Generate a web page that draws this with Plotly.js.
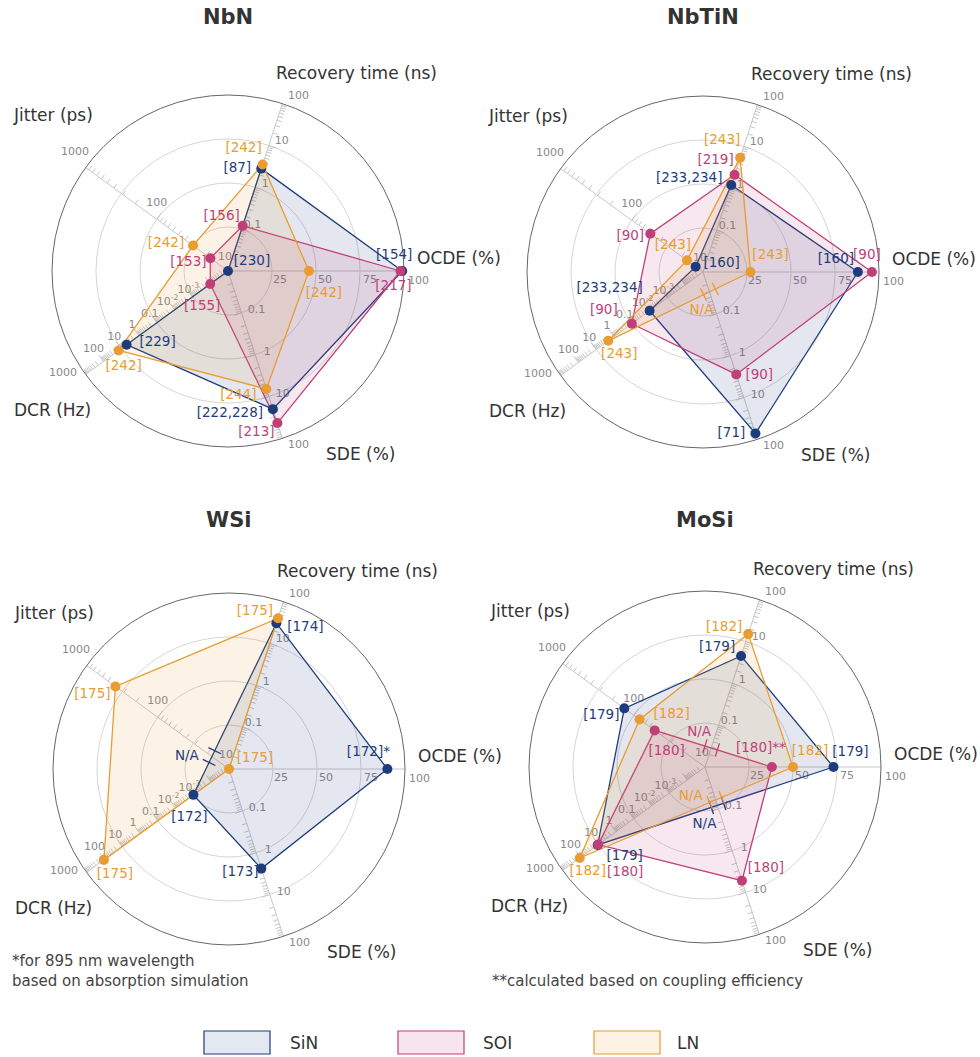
<!DOCTYPE html>
<html>
<head>
<meta charset="utf-8">
<script src="https://cdn.plot.ly/plotly-3.0.1.min.js"></script>
<style>
  html, body { margin: 0; padding: 0; background: #ffffff; }
  #chart { width: 980px; height: 1057px; }
</style>
</head>
<body>
<div id="chart"></div>
<script>
// ---- axes (counter-clockwise from the right-hand spoke) ----
const axisNames = ['OCDE (%)', 'Recovery time (ns)', 'Jitter (ps)', 'DCR (Hz)', 'SDE (%)'];
const axisAngles = [0, 72, 144, 216, 288];

const materials = ['NbN', 'NbTiN', 'WSi', 'MoSi'];
const platforms = ['SiN', 'SOI', 'LN'];

// ---- values: [OCDE %, recovery ns, jitter ps, DCR Hz, SDE %]; null = not reported ----
const nbnSiN = [99, 2.8, 10, 5, 20];
const nbnSOI = [98, 0.12, 17.7, 1e-4, 43];
const nbnLN  = [46, 3.5, 31, 14, 6.6];

const nbtinSiN = [88, 1.2, 12.7, 0.01, 72];
const nbtinSOI = [96, 2.1, 55, 0.1, 2.8];
const nbtinLN  = [27, 5.4, 16.8, 2.1, null];

const wsiSiN = [90, 30.6, null, 1e-3, 2.4];
const wsiSOI = [null, null, null, null, null];
const wsiLN  = [0, 40, 394, 107, null];

const mosiSiN = [73, 4.5, 136, 10.7, null];
const mosiSOI = [38, null, 51, 10, 5.2];
const mosiLN  = [50, 15, 83, 109, null];

// ---- reference tags drawn beside each point ----
const nbnSiNRefs = ['[154]', '[87]', '[230]', '[229]', '[222,228]'];
const nbnSOIRefs = ['[217]', '[156]', '[153]', '[155]', '[213]'];
const nbnLNRefs  = ['[242]', '[242]', '[242]', '[242]', '[244]'];

const nbtinSiNRefs = ['[160]', '[233,234]', '[160]', '[233,234]', '[71]'];
const nbtinSOIRefs = ['[90]', '[219]', '[90]', '[90]', '[90]'];
const nbtinLNRefs  = ['[243]', '[243]', '[243]', '[243]', 'N/A'];

const wsiSiNRefs = ['[172]*', '[174]', 'N/A', '[172]', '[173]'];
const wsiSOIRefs = ['', '', '', '', ''];
const wsiLNRefs  = ['[175]', '[175]', '[175]', '[175]', ''];

const mosiSiNRefs = ['[179]', '[179]', '[179]', '[179]', 'N/A'];
const mosiSOIRefs = ['[180]**', 'N/A', '[180]', '[180]', '[180]'];
const mosiLNRefs  = ['[182]', '[182]', '[182]', '[182]', 'N/A'];

// ---- spoke tick labels ----
const ocdeTicks = [25, 50, 75, 100];
const recoveryTicks = [0.1, 1, 10, 100];
const jitterTicks = [10, 100, 1000];
const dcrTicks = [1e-3, 1e-2, 0.1, 1, 10, 100, 1000];
const sdeTicks = [0.1, 1, 10, 100];
const recoveryTickText = ['0.1', '1', '10', '100'];
const jitterTickText = ['10', '100', '1000'];
const dcrTickText = ['10<sup>-3</sup>', '10<sup>-2</sup>', '0.1', '1', '10', '100', '1000'];
const sdeTickText = ['0.1', '1', '10', '100'];

// ---- per-axis scales onto the unit radius ----
const scales = [
  v => v / 100,                      // OCDE: linear 0–100 %
  v => (Math.log10(v) + 2) / 4,      // recovery: log 0.01–100 ns
  v => (Math.log10(v) - 1) / 2,      // jitter: log 10–1000 ps
  v => (Math.log10(v) + 5) / 8,      // DCR: log 1e-5–1e3 Hz
  v => (Math.log10(v) + 2) / 4       // SDE: log 0.01–100 %
];
// decade ranges used for the minor tick ladders on the log spokes
const logDecades = [null, [-2, 1], [1, 2], [-5, 2], [-2, 1]];

// ---- styling ----
const colors = { SiN: '#1e3c7d', SOI: '#c13f79', LN: '#e89c31' };
const fills  = { SiN: 'rgba(30,60,125,0.12)', SOI: 'rgba(193,63,121,0.12)', LN: 'rgba(232,156,49,0.12)' };
const legendFills = { SiN: '#e4e8f1', SOI: '#f7e5ee', LN: '#fdf3e5' };
const FONT = 'DejaVu Sans, Verdana, sans-serif';
const R_PX = 176;                                   // polar radius in px
const centers = [[228, 271], [703, 272], [229, 769], [705, 767]];
const W = 980, H = 1057;

// text placement (px, screen coords) of the reference tags relative to their point
const tagOffsets = {
  NbN: {
    SiN: [[-8, -15], [-24, 0], [24, -9], [31, -2], [-43, 4]],
    SOI: [[-7, 16], [-21, -9], [-22, 4], [-8, 23], [-21, 10]],
    LN:  [[15, 23], [-19, -16], [-27, -2], [5, 16], [-28, 7]]
  },
  NbTiN: {
    SiN: [[-22, -12], [-42, -6], [26, -3], [-40, -22], [-24, 0]],
    SOI: [[-5, -16], [-19, -14], [-20, 3], [-28, -13], [23, 1]],
    LN:  [[20, -16], [-18, -17], [-14, -15], [11, 14], [-8, 19]]
  },
  WSi: {
    SiN: [[-19, -16], [29, 4], [-25, 0], [-4, 23], [-21, 4]],
    SOI: [[0, 0], [0, 0], [0, 0], [0, 0], [0, 0]],
    LN:  [[26, -10], [-23, -7], [-23, 8], [11, 15], [0, 0]]
  },
  MoSi: {
    SiN: [[17, -14], [-24, -8], [-23, 7], [27, 12], [-13, 19]],
    SOI: [[-11, -18], [-12, -15], [12, 21], [27, 28], [24, -12]],
    LN:  [[17, -15], [-24, -6], [32, -5], [8, 14], [-25, -3]]
  }
};
// tick label placement per spoke (px offsets from the tick position)
const tickLabelOffsets = [
  [[8, 9], [9, 9], [10, 9], [14, 9]],
  [[11, -4], [10, -3], [13, -4], [16, -8]],
  [[-3, -14], [0, -16], [-11, -16]],
  [[-4, -7], [-7, -8], [-7, -8], [-7, -10], [-7, -11], [-10, -12], [-23, -2]],
  [[15, -3], [12, -2], [14, -2], [16, 6]]
];
// axis title placement relative to the panel centre (px)
const axisTitleOffsets = [[231, -13], [128, -198], [-175, -156], [-176, 139], [132, 183]];

const dataSets = {
  NbN:   { SiN: [nbnSiN, nbnSiNRefs], SOI: [nbnSOI, nbnSOIRefs], LN: [nbnLN, nbnLNRefs] },
  NbTiN: { SiN: [nbtinSiN, nbtinSiNRefs], SOI: [nbtinSOI, nbtinSOIRefs], LN: [nbtinLN, nbtinLNRefs] },
  WSi:   { SiN: [wsiSiN, wsiSiNRefs], SOI: [wsiSOI, wsiSOIRefs], LN: [wsiLN, wsiLNRefs] },
  MoSi:  { SiN: [mosiSiN, mosiSiNRefs], SOI: [mosiSOI, mosiSOIRefs], LN: [mosiLN, mosiLNRefs] }
};

// ---- geometry helpers (unit-radius polar <-> cartesian) ----
const rad = d => d * Math.PI / 180;
const cart = (r, deg) => [r * Math.cos(rad(deg)), r * Math.sin(rad(deg))];
const toPolar = (x, y) => [Math.hypot(x, y), Math.atan2(y, x) * 180 / Math.PI];

const traces = [];
const annotations = [];

// text that falls outside a radar's unit circle goes to paper-anchored annotations
function placeText(pi, X, Y, text, font, bucket) {
  if (Math.hypot(X, Y) < 0.985) {
    const p = toPolar(X, Y);
    bucket.r.push(p[0]); bucket.t.push(p[1]); bucket.s.push(text);
  } else {
    const [cx, cy] = centers[pi];
    annotations.push({ xref: 'paper', yref: 'paper', x: (cx + X * R_PX) / W, y: 1 - (cy - Y * R_PX) / H,
      text: text, showarrow: false, xanchor: 'center', yanchor: 'middle', font: font });
  }
}

materials.forEach((mat, pi) => {
  const sub = pi === 0 ? 'polar' : 'polar' + (pi + 1);

  // tick ladders on the log spokes (drawn on the clockwise side)
  const tr = [], tt = [];
  logDecades.forEach((dec, ai) => {
    if (!dec) return;
    const a = axisAngles[ai];
    for (let d = dec[0]; d <= dec[1]; d++) {
      for (let k = 1; k <= 9; k++) {
        const r = scales[ai](k * Math.pow(10, d));
        if (r <= 0.001 || r >= 0.999) continue;
        const len = (k === 1 ? 8 : 5) / R_PX;
        const [x, y] = cart(r, a);
        const [px, py] = cart(len, a - 90);
        const p1 = toPolar(x, y), p2 = toPolar(x + px, y + py);
        tr.push(p1[0], p2[0], null);
        tt.push(p1[1], p2[1], null);
      }
    }
  });
  traces.push({ type: 'scatterpolar', subplot: sub, mode: 'lines', r: tr, theta: tt,
    line: { color: '#c4c4c4', width: 1 }, hoverinfo: 'skip', showlegend: false, cliponaxis: false });

  // tick labels
  const tickFont = { family: FONT, size: 11, color: '#888888' };
  const tickSets = [
    [ocdeTicks, ocdeTicks.map(String)],
    [recoveryTicks, recoveryTickText],
    [jitterTicks, jitterTickText],
    [dcrTicks, dcrTickText],
    [sdeTicks, sdeTickText]
  ];
  const tb = { r: [], t: [], s: [] };
  tickSets.forEach(([vals, txt], ai) => {
    vals.forEach((v, i) => {
      const [dx, dy] = tickLabelOffsets[ai][i];
      const [x, y] = cart(scales[ai](v), axisAngles[ai]);
      placeText(pi, x + dx / R_PX, y - dy / R_PX, txt[i], tickFont, tb);
    });
  });
  traces.push({ type: 'scatterpolar', subplot: sub, mode: 'text', r: tb.r, theta: tb.t, text: tb.s,
    textposition: 'middle center', textfont: tickFont, hoverinfo: 'skip', showlegend: false, cliponaxis: false });

  // axis titles
  const titleFont = { family: FONT, size: 17, color: '#333333' };
  axisTitleOffsets.forEach(([dx, dy], ai) => {
    placeText(pi, dx / R_PX, -dy / R_PX, axisNames[ai], titleFont, null);
  });

  // filled outlines
  const markerTraces = [], tagTraces = [], naTraces = [];
  platforms.forEach(pf => {
    const [vals, refs] = dataSets[mat][pf];
    const idx = vals.map((v, i) => v === null ? -1 : i).filter(i => i >= 0);
    if (!idx.length) return;
    const rr = idx.map(i => scales[i](vals[i]));
    const th = idx.map(i => axisAngles[i]);
    traces.push({ type: 'scatterpolar', subplot: sub, mode: 'lines', fill: 'toself',
      r: rr.concat([rr[0]]), theta: th.concat([th[0]]),
      line: { color: colors[pf], width: 1.3 }, fillcolor: fills[pf],
      hoverinfo: 'skip', showlegend: false, cliponaxis: false });

    markerTraces.push({ type: 'scatterpolar', subplot: sub, mode: 'markers', r: rr, theta: th,
      marker: { color: colors[pf], size: 10 }, name: pf, showlegend: false, cliponaxis: false });

    const tagFont = { family: FONT, size: 13.5, color: colors[pf] };
    const offs = tagOffsets[mat][pf];
    const tb2 = { r: [], t: [], s: [] };
    idx.forEach((i, k) => {
      const [x, y] = cart(rr[k], th[k]);
      placeText(pi, x + offs[i][0] / R_PX, y - offs[i][1] / R_PX, refs[i], tagFont, tb2);
    });

    // break marks where a quantity is not available
    const mr = [], mt = [];
    vals.forEach((v, i) => {
      if (v !== null || refs[i] !== 'N/A') return;
      const n = vals.length;
      let a = i, b = i;
      do { a = (a - 1 + n) % n; } while (vals[a] === null);
      do { b = (b + 1) % n; } while (vals[b] === null);
      const P1 = cart(scales[a](vals[a]), axisAngles[a]);
      const P2 = cart(scales[b](vals[b]), axisAngles[b]);
      const u = cart(1, axisAngles[i]);
      const d = [P2[0] - P1[0], P2[1] - P1[1]];
      const cross = (p, q) => p[0] * q[1] - p[1] * q[0];
      const t = cross(P1, d) / cross(u, d);
      const C = [t * u[0], t * u[1]];
      const L = Math.hypot(d[0], d[1]);
      const e = [d[0] / L, d[1] / L], nrm = [-e[1], e[0]];
      const gap = 6.5 / R_PX, half = 7 / R_PX;
      [-1, 1].forEach(s => {
        const M = [C[0] + s * gap * e[0], C[1] + s * gap * e[1]];
        const q1 = toPolar(M[0] - half * nrm[0], M[1] - half * nrm[1]);
        const q2 = toPolar(M[0] + half * nrm[0], M[1] + half * nrm[1]);
        mr.push(q1[0], q2[0], null); mt.push(q1[1], q2[1], null);
      });
      placeText(pi, C[0] + offs[i][0] / R_PX, C[1] - offs[i][1] / R_PX, 'N/A', tagFont, tb2);
    });
    if (mr.length) {
      naTraces.push({ type: 'scatterpolar', subplot: sub, mode: 'lines', r: mr, theta: mt,
        line: { color: colors[pf], width: 1.3 }, hoverinfo: 'skip', showlegend: false, cliponaxis: false });
    }
    tagTraces.push({ type: 'scatterpolar', subplot: sub, mode: 'text', r: tb2.r, theta: tb2.t, text: tb2.s,
      textposition: 'middle center', textfont: tagFont, hoverinfo: 'skip', showlegend: false, cliponaxis: false });
  });
  traces.push(...naTraces, ...markerTraces, ...tagTraces);
});

// ---- layout ----
const layout = {
  width: W, height: H,
  margin: { l: 0, r: 0, t: 0, b: 0 },
  paper_bgcolor: '#ffffff',
  showlegend: false,
  font: { family: FONT },
  annotations: annotations,
  shapes: []
};

materials.forEach((mat, pi) => {
  const [cx, cy] = centers[pi];
  const key = pi === 0 ? 'polar' : 'polar' + (pi + 1);
  layout[key] = {
    domain: { x: [(cx - R_PX) / W, (cx + R_PX) / W], y: [1 - (cy + R_PX) / H, 1 - (cy - R_PX) / H] },
    bgcolor: 'rgba(0,0,0,0)',
    radialaxis: { range: [0, 1], tickvals: [0.25, 0.5, 0.75], showticklabels: false, ticks: '',
      showline: false, gridcolor: '#d6d6d6', gridwidth: 1, layer: 'below traces' },
    angularaxis: { type: 'linear', thetaunit: 'degrees', rotation: 0, direction: 'counterclockwise',
      tickvals: axisAngles, showticklabels: false, ticks: '', gridcolor: '#c8c8c8', gridwidth: 1,
      linecolor: '#666666', linewidth: 1, layer: 'below traces' }
  };
  annotations.push({ xref: 'paper', yref: 'paper', x: cx / W, y: 1 - (pi < 2 ? 17 : 520) / H,
    text: '<b>' + mat + '</b>', showarrow: false, xanchor: 'center', yanchor: 'middle',
    font: { family: FONT, size: 21, color: '#333333' } });
});

// footnotes
[['*for 895 nm wavelength', 10, 961], ['based on absorption simulation', 10, 981],
 ['**calculated based on coupling efficiency', 490, 981]].forEach(([t, x, y]) => {
  annotations.push({ xref: 'paper', yref: 'paper', x: x / W, y: 1 - y / H, text: t,
    showarrow: false, xanchor: 'left', yanchor: 'middle', font: { family: FONT, size: 15, color: '#444444' } });
});

// legend swatches
const legendBoxX = [204, 398, 594];
const legendTextX = [304, 497, 688];
platforms.forEach((pf, i) => {
  layout.shapes.push({ type: 'rect', xref: 'paper', yref: 'paper',
    x0: legendBoxX[i] / W, x1: (legendBoxX[i] + 66) / W, y0: 1 - 1054 / H, y1: 1 - 1031 / H,
    fillcolor: legendFills[pf], line: { color: colors[pf], width: 1.2 } });
  annotations.push({ xref: 'paper', yref: 'paper', x: legendTextX[i] / W, y: 1 - 1043 / H,
    text: pf, showarrow: false, xanchor: 'center', yanchor: 'middle',
    font: { family: FONT, size: 17, color: '#333333' } });
});

Plotly.newPlot('chart', traces, layout, { displayModeBar: false, staticPlot: true });
</script>
</body>
</html>
